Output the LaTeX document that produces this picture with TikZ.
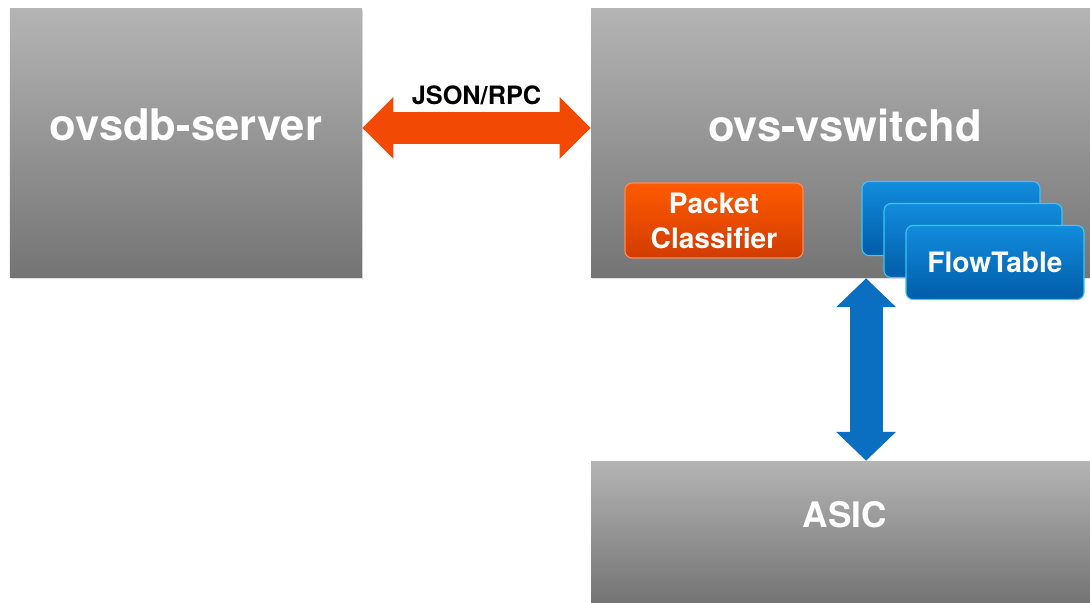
\documentclass[tikz,border=0pt]{standalone}
\usepackage{fontspec}
\setmainfont{TeX Gyre Heros}
\usepackage{xcolor}
\usepackage{tikz}
\usetikzlibrary{arrows.meta, positioning, shadows, calc}

\definecolor{boxtop}{HTML}{B4B4B4}
\definecolor{boxbot}{HTML}{747474}
\definecolor{orangetop}{HTML}{FF5A00}
\definecolor{orangebot}{HTML}{D23C00}
\definecolor{orangeedge}{HTML}{FF8A50}
\definecolor{bluetop}{HTML}{138CDD}
\definecolor{bluebot}{HTML}{005CA8}
\definecolor{blueedge}{HTML}{3CC6F2}
\definecolor{arroworange}{HTML}{F24A05}
\definecolor{arrowblue}{HTML}{0A6FC0}

\begin{document}
\begin{tikzpicture}[
    graybox/.style={top color=boxtop, bottom color=boxbot, minimum width=#1, inner sep=0pt,
        drop shadow={opacity=0.25, shadow xshift=0.8pt, shadow yshift=-0.8pt}},
    title/.style={text=white, font=\fontsize{31}{34}\selectfont\bfseries},
    small/.style={draw, line width=0.8pt, rounded corners=5pt, minimum width=4.45cm, minimum height=1.85cm,
        align=center, text=white, font=\fontsize{20}{24}\selectfont\bfseries},
    classbox/.style={small, draw=orangeedge, top color=orangetop, bottom color=orangebot},
    flowbox/.style={small, draw=blueedge, top color=bluetop, bottom color=bluebot},
    link/.style={line width=#1, line cap=butt}
]
\useasboundingbox (0,0) rectangle (27.25,-15.075);

% Processes
\node[graybox=8.8cm, minimum height=6.725cm] (ovsdb) at (4.65,-3.5875) {};
\node[graybox=12.475cm, minimum height=6.725cm] (vswitchd) at (21.0125,-3.5875) {};
\node[graybox=12.475cm, minimum height=3.55cm] (asic) at (21.0125,-13.3) {};

\node[title] (ovsdblabel) at ([yshift=0.46cm]ovsdb.center) {ovsdb-server};
\node[title] (vswitchdlabel) at ([xshift=0.11cm, yshift=0.46cm]vswitchd.center) {ovs-vswitchd};
\node[title, font=\fontsize{25}{28}\selectfont\bfseries] (asiclabel) at ([xshift=0.11cm, yshift=0.43cm]asic.center) {ASIC};

% Inside ovs-vswitchd
\node[classbox, minimum height=1.875cm] (classifier) at (17.85,-5.5125) {Packet\\[1pt]Classifier};
\node[flowbox] (flow1) at (23.775,-5.4625) {};
\node[flowbox] (flow2) at ([xshift=0.55cm, yshift=-0.55cm]flow1.center) {};
\node[flowbox] (flow3) at ([xshift=0.55cm, yshift=-0.55cm]flow2.center) {FlowTable};

% Links
\draw[link=0.8cm, arroworange, {Triangle[length=0.78cm, width=1.5cm]}-{Triangle[length=0.78cm, width=1.5cm]}]
    ([yshift=0.39cm]ovsdb.east) -- ([yshift=0.39cm]vswitchd.west);
\node[font=\fontsize{18}{20}\selectfont\bfseries] (rpc) at ($(ovsdb.east)!0.5!(vswitchd.west) + (0,1.21)$) {JSON/RPC};

\draw[link=0.82cm, arrowblue, {Triangle[length=0.72cm, width=1.45cm]}-{Triangle[length=0.72cm, width=1.45cm]}]
    ([xshift=0.64cm]vswitchd.south) -- ([xshift=0.64cm]asic.north);

\end{tikzpicture}
\end{document}
